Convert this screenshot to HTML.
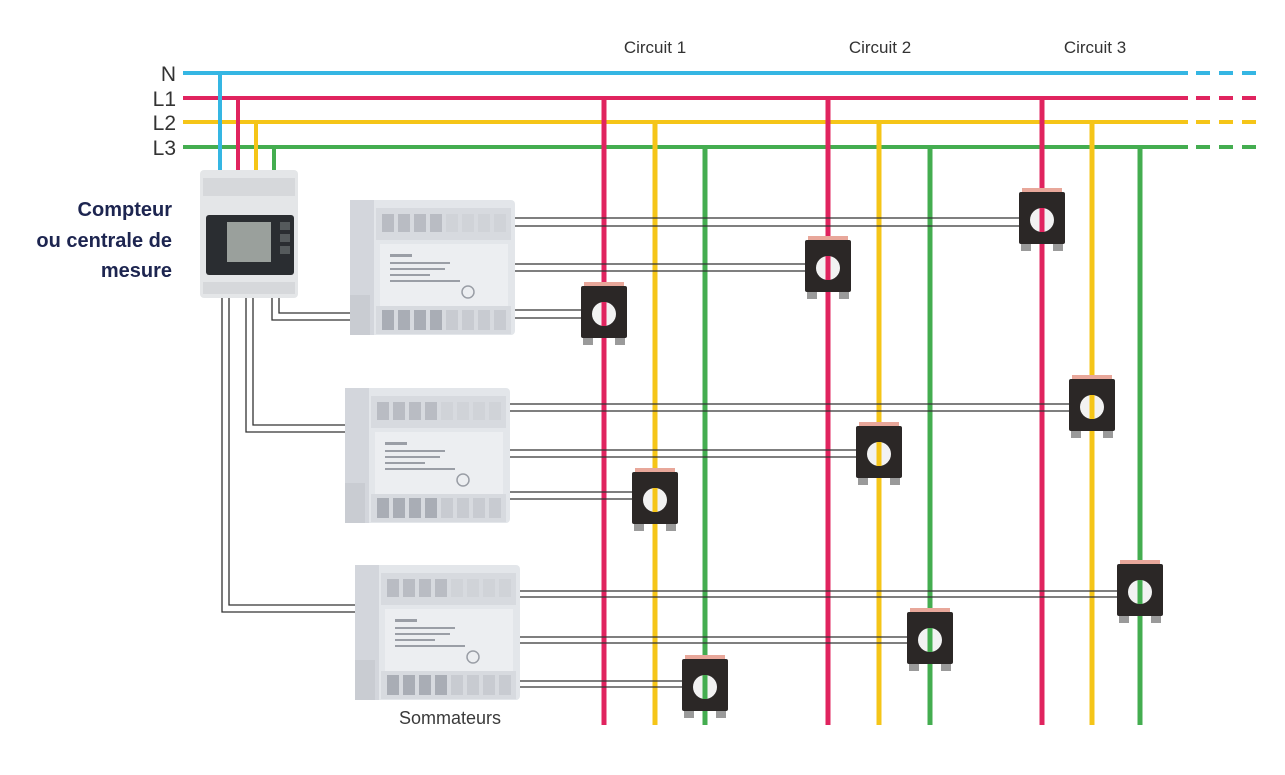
<!DOCTYPE html>
<html><head><meta charset="utf-8"><style>
html,body{margin:0;padding:0;background:#fff;width:1285px;height:775px;overflow:hidden}
svg{display:block}
</style></head><body>
<svg width="1285" height="775" viewBox="0 0 1285 775" xmlns="http://www.w3.org/2000/svg">
<defs>
<g id="summ">
  <rect x="0" y="0" width="165" height="135" rx="4" fill="#e3e6ea"/>
  <rect x="0" y="0" width="24" height="135" fill="#d3d6dc"/>
  <rect x="0" y="95" width="20" height="40" fill="#c9ccd2"/>
  <rect x="26" y="8" width="135" height="32" fill="#d7dadf"/>
  <g fill="#b9bcc3">
    <rect x="32" y="14" width="12" height="18"/><rect x="48" y="14" width="12" height="18"/>
    <rect x="64" y="14" width="12" height="18"/><rect x="80" y="14" width="12" height="18"/>
    <rect x="96" y="14" width="12" height="18" fill="#d0d3d8"/><rect x="112" y="14" width="12" height="18" fill="#d0d3d8"/>
    <rect x="128" y="14" width="12" height="18" fill="#d0d3d8"/><rect x="144" y="14" width="12" height="18" fill="#d0d3d8"/>
  </g>
  <rect x="30" y="44" width="128" height="62" fill="#eceef1"/>
  <g fill="#9a9ea6"><rect x="40" y="54" width="22" height="3"/><rect x="40" y="62" width="60" height="2"/><rect x="40" y="68" width="55" height="2"/><rect x="40" y="74" width="40" height="2"/><rect x="40" y="80" width="70" height="2"/></g>
  <circle cx="118" cy="92" r="6" fill="none" stroke="#9a9ea6" stroke-width="1.5"/>
  <rect x="26" y="106" width="135" height="28" fill="#d7dadf"/>
  <g fill="#a9adb5">
    <rect x="32" y="110" width="12" height="20"/><rect x="48" y="110" width="12" height="20"/>
    <rect x="64" y="110" width="12" height="20"/><rect x="80" y="110" width="12" height="20"/>
    <rect x="96" y="110" width="12" height="20" fill="#c8cbd1"/><rect x="112" y="110" width="12" height="20" fill="#c8cbd1"/>
    <rect x="128" y="110" width="12" height="20" fill="#c8cbd1"/><rect x="144" y="110" width="12" height="20" fill="#c8cbd1"/>
  </g>
</g>
<g id="ct">
  <rect x="-20" y="0" width="40" height="6" fill="#e8a79a"/>
  <rect x="-23" y="4" width="46" height="52" rx="2" fill="#2b2726"/>
  <rect x="-21" y="56" width="10" height="7" fill="#9a9a9a"/>
  <rect x="11" y="56" width="10" height="7" fill="#9a9a9a"/>
  <circle cx="0" cy="32" r="12" fill="#f2f2f2"/>
</g>
</defs>

<g stroke-width="4">
  <line x1="183" y1="73" x2="1188" y2="73" stroke="#35b6e3"/>
  <line x1="1196" y1="73" x2="1256" y2="73" stroke="#35b6e3" stroke-dasharray="14 9"/>
  <line x1="183" y1="98" x2="1188" y2="98" stroke="#e0245f"/>
  <line x1="1196" y1="98" x2="1256" y2="98" stroke="#e0245f" stroke-dasharray="14 9"/>
  <line x1="183" y1="122" x2="1188" y2="122" stroke="#f5c518"/>
  <line x1="1196" y1="122" x2="1256" y2="122" stroke="#f5c518" stroke-dasharray="14 9"/>
  <line x1="183" y1="147" x2="1188" y2="147" stroke="#44ad50"/>
  <line x1="1196" y1="147" x2="1256" y2="147" stroke="#44ad50" stroke-dasharray="14 9"/>
  <line x1="220" y1="73" x2="220" y2="172" stroke="#35b6e3"/>
  <line x1="238" y1="98" x2="238" y2="172" stroke="#e0245f"/>
  <line x1="256" y1="122" x2="256" y2="172" stroke="#f5c518"/>
  <line x1="274" y1="147" x2="274" y2="172" stroke="#44ad50"/>
  <line x1="604" y1="98" x2="604" y2="725" stroke="#e0245f" stroke-width="5"/>
  <line x1="655" y1="122" x2="655" y2="725" stroke="#f5c518" stroke-width="5"/>
  <line x1="705" y1="147" x2="705" y2="725" stroke="#44ad50" stroke-width="5"/>
  <line x1="828" y1="98" x2="828" y2="725" stroke="#e0245f" stroke-width="5"/>
  <line x1="879" y1="122" x2="879" y2="725" stroke="#f5c518" stroke-width="5"/>
  <line x1="930" y1="147" x2="930" y2="725" stroke="#44ad50" stroke-width="5"/>
  <line x1="1042" y1="98" x2="1042" y2="725" stroke="#e0245f" stroke-width="5"/>
  <line x1="1092" y1="122" x2="1092" y2="725" stroke="#f5c518" stroke-width="5"/>
  <line x1="1140" y1="147" x2="1140" y2="725" stroke="#44ad50" stroke-width="5"/>
</g>

<g fill="none" stroke="#333" stroke-width="1.3">
  <polyline points="222,298 222,612 357,612"/><polyline points="229,298 229,605 357,605"/>
  <polyline points="246,298 246,432 347,432"/><polyline points="253,298 253,425 347,425"/>
  <polyline points="272,298 272,320 352,320"/><polyline points="279,298 279,313 352,313"/>
  <line x1="515" y1="218" x2="1020" y2="218"/><line x1="515" y1="226" x2="1020" y2="226"/>
  <line x1="515" y1="264" x2="806" y2="264"/><line x1="515" y1="271" x2="806" y2="271"/>
  <line x1="515" y1="310" x2="582" y2="310"/><line x1="515" y1="318" x2="582" y2="318"/>
  <line x1="510" y1="404" x2="1070" y2="404"/><line x1="510" y1="411" x2="1070" y2="411"/>
  <line x1="510" y1="450" x2="857" y2="450"/><line x1="510" y1="457" x2="857" y2="457"/>
  <line x1="510" y1="492" x2="633" y2="492"/><line x1="510" y1="499" x2="633" y2="499"/>
  <line x1="520" y1="591" x2="1118" y2="591"/><line x1="520" y1="597" x2="1118" y2="597"/>
  <line x1="520" y1="637" x2="908" y2="637"/><line x1="520" y1="643" x2="908" y2="643"/>
  <line x1="520" y1="681" x2="683" y2="681"/><line x1="520" y1="687" x2="683" y2="687"/>
</g>

<rect x="200" y="170" width="98" height="128" rx="4" fill="#e4e6e8"/>
<rect x="203" y="178" width="92" height="18" fill="#d6d8db"/>
<rect x="203" y="282" width="92" height="12" fill="#d6d8db"/>
<rect x="206" y="215" width="88" height="60" rx="3" fill="#2a2d31"/>
<rect x="227" y="222" width="44" height="40" fill="#9aa09c"/>
<g fill="#555a5c"><rect x="280" y="222" width="10" height="8"/><rect x="280" y="234" width="10" height="8"/><rect x="280" y="246" width="10" height="8"/></g>

<use href="#summ" x="350" y="200"/>
<use href="#summ" x="345" y="388"/>
<use href="#summ" x="355" y="565"/>

<use href="#ct" x="604" y="282"/><line x1="604" y1="302" x2="604" y2="326" stroke="#e0245f" stroke-width="5"/>
<use href="#ct" x="655" y="468"/><line x1="655" y1="488" x2="655" y2="512" stroke="#f5c518" stroke-width="5"/>
<use href="#ct" x="705" y="655"/><line x1="705" y1="675" x2="705" y2="699" stroke="#44ad50" stroke-width="5"/>
<use href="#ct" x="828" y="236"/><line x1="828" y1="256" x2="828" y2="280" stroke="#e0245f" stroke-width="5"/>
<use href="#ct" x="879" y="422"/><line x1="879" y1="442" x2="879" y2="466" stroke="#f5c518" stroke-width="5"/>
<use href="#ct" x="930" y="608"/><line x1="930" y1="628" x2="930" y2="652" stroke="#44ad50" stroke-width="5"/>
<use href="#ct" x="1042" y="188"/><line x1="1042" y1="208" x2="1042" y2="232" stroke="#e0245f" stroke-width="5"/>
<use href="#ct" x="1092" y="375"/><line x1="1092" y1="395" x2="1092" y2="419" stroke="#f5c518" stroke-width="5"/>
<use href="#ct" x="1140" y="560"/><line x1="1140" y1="580" x2="1140" y2="604" stroke="#44ad50" stroke-width="5"/>

<g font-family="Liberation Sans, sans-serif" fill="#333">
  <text x="176" y="81" font-size="21" text-anchor="end">N</text>
  <text x="176" y="106" font-size="21" text-anchor="end">L1</text>
  <text x="176" y="130" font-size="21" text-anchor="end">L2</text>
  <text x="176" y="155" font-size="21" text-anchor="end">L3</text>
  <text x="655" y="53" font-size="17" text-anchor="middle">Circuit 1</text>
  <text x="880" y="53" font-size="17" text-anchor="middle">Circuit 2</text>
  <text x="1095" y="53" font-size="17" text-anchor="middle">Circuit 3</text>
  <text x="450" y="724" font-size="18" text-anchor="middle" fill="#3a3a3a">Sommateurs</text>
  <g font-weight="bold" font-size="20" fill="#1d2550" text-anchor="end">
    <text x="172" y="216">Compteur</text>
    <text x="172" y="247">ou centrale de</text>
    <text x="172" y="277">mesure</text>
  </g>
</g>
</svg>
</body></html>
